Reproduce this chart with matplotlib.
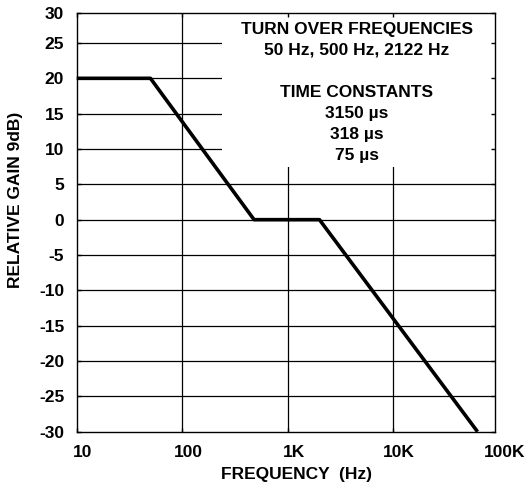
import matplotlib
matplotlib.use("Agg")
from matplotlib import pyplot as plt
from matplotlib import transforms as mtrans
from matplotlib.patches import Rectangle

# response curve corners
freq = [10, 50, 480, 2000, 63000]
gain = [20, 20, 0, 0, -30]

x_ticks = [10, 100, 1000, 10000, 100000]
x_labels = ["10", "100", "1K", "10K", "100K"]
y_ticks = list(range(-30, 31, 5))

note_lines = ["TURN OVER FREQUENCIES", "50 Hz, 500 Hz, 2122 Hz", "",
              "TIME CONSTANTS", "3150 \u00b5s", "318 \u00b5s", "75 \u00b5s"]

plt.rcParams['font.family'] = ['Liberation Sans', 'DejaVu Sans']
plt.rcParams['font.weight'] = 'bold'
FS = 12.5

W, H = 529, 493
L, R, T, B = 76.7, 495, 13.3, 431.7
fig = plt.figure(figsize=(W / 100, H / 100), dpi=100)
ax = fig.add_axes([L / W, 1 - B / H, (R - L) / W, (B - T) / H])

ax.set_xscale('log')
x_max = 10 ** (1 + (R - L) / 105.5)
y_top = 29.2
ax.set_xlim(10, x_max)
ax.set_ylim(-30, y_top)
ax.minorticks_off()

# x ticks inside the range; labels placed for every decade incl. 100K
ax.set_xticks(x_ticks[:-1])
ax.set_xticklabels([])
off = mtrans.ScaledTranslation(6 / 100, 0, fig.dpi_scale_trans)
xlab_tr = mtrans.blended_transform_factory(ax.transData, ax.transAxes) + off
for v, lbl in zip(x_ticks, x_labels):
    ax.text(v, -0.032, lbl, transform=xlab_tr, ha='center', va='top',
            fontsize=FS, fontweight='bold', clip_on=False)

ax.set_yticks(y_ticks[:-1] + [y_top])
ax.set_yticklabels([str(v) for v in y_ticks])
ax.tick_params(direction='in', length=3, width=1, top=True, right=True,
               labelsize=FS, colors='black')
ax.tick_params(axis='y', pad=9)

# grid
for v in y_ticks[1:-1]:
    ax.axhline(v, color='black', linewidth=0.9, zorder=1)
for v in x_ticks[1:-1]:
    ax.axvline(v, color='black', linewidth=0.9, zorder=1)

for s in ax.spines.values():
    s.set_linewidth(1.0)
    s.set_zorder(5)

# white panel behind the notes hides the grid
ax.add_patch(Rectangle((238, 7.5), x_max - 238, y_top - 7.5, facecolor='white',
                       edgecolor='none', zorder=1.2))

ax.plot(freq, gain, color='black', linewidth=2.6, solid_capstyle='butt', zorder=4, clip_on=False)

for i, t in enumerate(note_lines):
    ypx = 29.2 + i * 21.1
    ax.text(0.669, (B - ypx) / (B - T), t, transform=ax.transAxes, ha='center', va='center',
            fontsize=FS, fontweight='bold', zorder=6)

fig.text(296.7 / W, 1 - 475 / H, "FREQUENCY  (Hz)", ha='center', va='center',
         fontsize=FS, fontweight='bold')
fig.text(15.8 / W, 1 - 200 / H, "RELATIVE GAIN 9dB)", ha='center', va='center',
         rotation=90, fontsize=FS, fontweight='bold')

plt.savefig("out.png", dpi=100)
